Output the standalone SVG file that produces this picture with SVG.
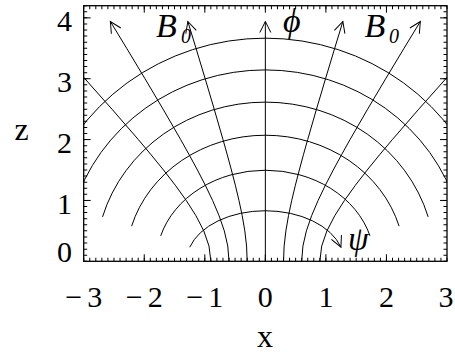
<svg xmlns="http://www.w3.org/2000/svg" width="455" height="356" viewBox="0 0 455 356">
<style>
.ln{fill:none;stroke:#000;stroke-width:1}
.tk{fill:none;stroke:#000}
.lab{font-family:"Liberation Serif",serif;font-size:30px;fill:#000}
.it{font-family:"Liberation Serif",serif;font-style:italic;fill:#000}
</style>
<defs>
<clipPath id="box"><rect x="83.7" y="5.7" width="363.3" height="255.6"/></clipPath>
<marker id="ah" markerUnits="userSpaceOnUse" markerWidth="16" markerHeight="16" viewBox="-13 -8 16 16" refX="0" refY="0" orient="auto">
<path d="M-11,-5.5 L0,0 L-11,5.5" fill="none" stroke="#000" stroke-width="1"/>
</marker>
</defs>
<rect width="455" height="356" fill="#fff"/>

<g id="connectors" clip-path="url(#box)">
<g id="psi-curves">
<path class="ln" d="M189.76,247.2 A78.715,50.554 0 0 1 340.94,247.2" marker-end="url(#ah)"/>
<path class="ln" d="M160.69,235.89 A108.99,91.087 0 0 1 370.01,235.89"/>
<path class="ln" d="M131.61,226.13 A139.265,126.055 0 0 1 399.09,226.13"/>
<path class="ln" d="M102.54,216.89 A169.54,159.17 0 0 1 428.16,216.89"/>
<path class="ln" d="M73.47,207.9 A199.815,191.395 0 0 1 457.23,207.9"/>
<path class="ln" d="M44.39,199.05 A230.09,223.116 0 0 1 486.31,199.05"/>
</g>
<g id="field-lines">
<path class="ln" d="M265.35,261.3 L265.35,21.51" marker-end="url(#ah)"/>
<path class="ln" d="M283.52,261.3 L284.13,246.09 L285.88,230.87 L288.49,215.66 L291.72,200.44 L295.37,185.23 L299.3,170.01 L303.42,154.8 L307.69,139.58 L316.49,109.15 L325.52,78.72 L334.7,48.29 L342.85,21.51" marker-end="url(#ah)"/>
<path class="ln" d="M247.18,261.3 L246.57,246.09 L244.82,230.87 L242.21,215.66 L238.98,200.44 L235.33,185.23 L231.4,170.01 L227.28,154.8 L223.01,139.58 L214.21,109.15 L205.18,78.72 L196,48.29 L187.85,21.51" marker-end="url(#ah)"/>
<path class="ln" d="M301.68,261.3 L302.92,246.09 L306.4,230.87 L311.64,215.66 L318.1,200.44 L325.39,185.23 L333.25,170.01 L341.5,154.8 L350.02,139.58 L367.63,109.15 L385.69,78.72 L404.04,48.29 L420.34,21.51" marker-end="url(#ah)"/>
<path class="ln" d="M229.02,261.3 L227.78,246.09 L224.3,230.87 L219.06,215.66 L212.6,200.44 L205.31,185.23 L197.45,170.01 L189.2,154.8 L180.68,139.58 L163.07,109.15 L145.01,78.72 L126.66,48.29 L110.36,21.51" marker-end="url(#ah)"/>
<path class="ln" d="M319.85,261.3 L321.7,246.09 L326.93,230.87 L334.78,215.66 L344.47,200.44 L355.41,185.23 L367.2,170.01 L379.57,154.8 L392.36,139.58 L418.76,109.15 L445.86,78.72 L451.34,72.63"/>
<path class="ln" d="M210.85,261.3 L209,246.09 L203.77,230.87 L195.92,215.66 L186.23,200.44 L175.29,185.23 L163.5,170.01 L151.13,154.8 L138.34,139.58 L111.94,109.15 L84.84,78.72 L79.36,72.63"/>
</g>
</g>

<g id="axes">
<rect x="83.7" y="5.7" width="363.3" height="255.6" fill="none" stroke="#000" stroke-width="1.3"/>
<g class="tk">
<line x1="83.2" y1="259.55" x2="447.5" y2="259.55" stroke-width="3.5" stroke-dasharray="1 5.055"/>
<line x1="83.2" y1="7.45" x2="447.5" y2="7.45" stroke-width="3.5" stroke-dasharray="1 5.055"/>
<line x1="85.45" y1="261.8" x2="85.45" y2="5.7" stroke-width="3.5" stroke-dasharray="1 5.086"/>
<line x1="445.25" y1="261.8" x2="445.25" y2="5.7" stroke-width="3.5" stroke-dasharray="1 5.086"/>
<path stroke-width="1" d="M144.25,261.3 v-7 M204.8,261.3 v-7 M265.35,261.3 v-7 M325.9,261.3 v-7 M386.45,261.3 v-7 M144.25,5.7 v7 M204.8,5.7 v7 M265.35,5.7 v7 M325.9,5.7 v7 M386.45,5.7 v7 M83.7,200.44 h7 M83.7,139.58 h7 M83.7,78.72 h7 M83.7,17.86 h7 M447,200.44 h-7 M447,139.58 h-7 M447,78.72 h-7 M447,17.86 h-7"/>
</g>
<g id="y-tick-labels" class="lab" text-anchor="end">
<text x="72" y="30.5">4</text>
<text x="72" y="91.5">3</text>
<text x="72" y="152.5">2</text>
<text x="72" y="213.5">1</text>
<text x="72" y="261.5">0</text>
</g>
<g id="x-tick-labels" class="lab" text-anchor="middle">
<text x="83.7" y="306.5">−<tspan dx="5">3</tspan></text>
<text x="144.25" y="306.5">−<tspan dx="5">2</tspan></text>
<text x="204.8" y="306.5">−<tspan dx="5">1</tspan></text>
<text x="265.35" y="306.5">0</text>
<text x="325.9" y="306.5">1</text>
<text x="386.45" y="306.5">2</text>
<text x="446" y="306.5">3</text>
</g>
<text class="lab" x="21.7" y="140" text-anchor="middle" style="font-size:32px">z</text>
<text class="lab" x="265" y="347" text-anchor="middle" style="font-size:32px">x</text>
</g>

<g id="labels">
<g id="label-B0-left"><text class="it" x="156" y="37" font-size="34">B</text><text class="it" x="181" y="43" font-size="20">0</text></g>
<g id="label-B0-right"><text class="it" x="364.5" y="37" font-size="34">B</text><text class="it" x="389" y="43" font-size="20">0</text></g>
<g id="label-phi"><text class="it" x="283" y="32" font-size="34">ϕ</text></g>
<g id="label-psi"><text class="it" x="348" y="250" font-size="33">ψ</text></g>
</g>
</svg>
